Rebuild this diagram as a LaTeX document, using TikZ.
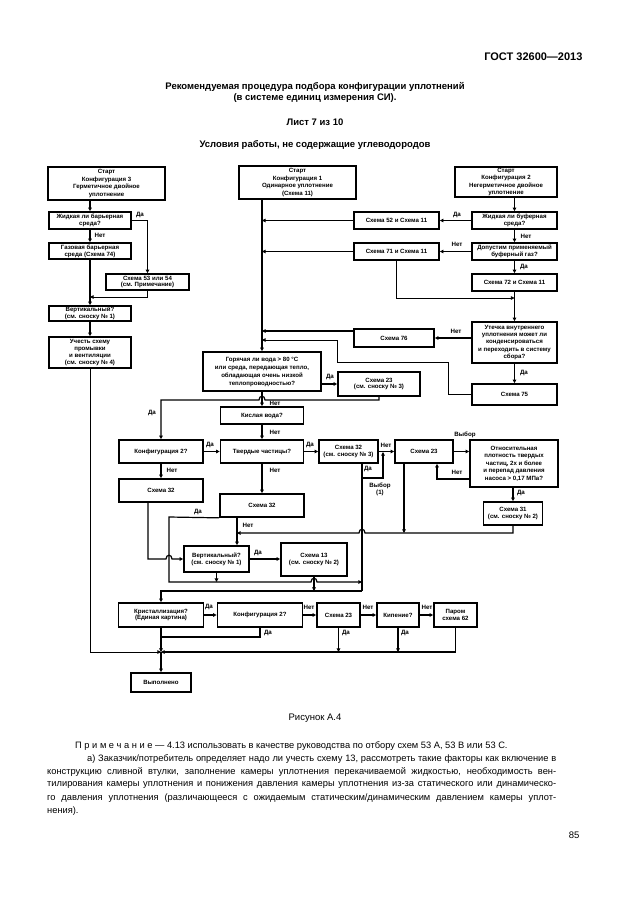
\documentclass[tikz,border=0pt]{standalone}
\usepackage{fontspec}
\setmainfont{Liberation Sans}
\usetikzlibrary{arrows.meta}
\begin{document}
\begin{tikzpicture}[x=1pt,y=-1pt,
  bx/.style={draw, line width=1.7pt, align=center, inner sep=0pt, font=\bfseries\fontsize{6.1}{6.9}\selectfont},
  ln/.style={line width=1.2pt},
  tn/.style={line width=0.8pt},
  ar/.style={-{Triangle[length=3.6pt,width=3.6pt]}},
  lb/.style={font=\bfseries\fontsize{6.2}{7}\selectfont, inner sep=0pt, align=center},
]
\useasboundingbox (0,0) rectangle (630,913);
\fill[white] (0,0) rectangle (630,913);

% ---------- header ----------
\node[font=\bfseries\fontsize{11}{13}\selectfont, anchor=east] (gost) at (586,57) {ГОСТ 32600—2013};
\node[font=\bfseries\fontsize{9.5}{11.5}\selectfont, align=center] (title) at (315,92.5) {Рекомендуемая процедура подбора конфигурации уплотнений\\(в системе единиц измерения СИ).};
\node[font=\bfseries\fontsize{9.5}{11.5}\selectfont] (sheet) at (315,122) {Лист 7 из 10};
\node[font=\bfseries\fontsize{9.5}{11.5}\selectfont] (cond) at (315,145) {Условия работы, не содержащие углеводородов};

% ---------- boxes: left column ----------
\node[bx, minimum width=117pt, minimum height=33pt, font=\bfseries\fontsize{6.1}{7.4}\selectfont] (L1) at (106.5,183.5) {Старт\\Конфигурация 3\\Герметичное двойное\\уплотнение};
\node[bx, minimum width=82pt, minimum height=17pt] (L2) at (90,220.5) {Жидкая ли барьерная\\среда?};
\node[bx, minimum width=82pt, minimum height=16pt] (L3) at (90,251) {Газовая барьерная\\среда (Схема 74)};
\node[bx, minimum width=83pt, minimum height=16pt] (L4) at (147.5,282) {Схема 53 или 54\\(см. Примечание)};
\node[bx, minimum width=82pt, minimum height=15pt] (L5) at (90,313.5) {Вертикальный?\\(см. сноску № 1)};
\node[bx, minimum width=82pt, minimum height=31pt] (L6) at (90,352.5) {Учесть схему\\промывки\\и вентиляции\\(см. сноску № 4)};

% ---------- middle column ----------
\node[bx, minimum width=117pt, minimum height=33pt, font=\bfseries\fontsize{6.1}{7.4}\selectfont] (M1) at (297.5,182.5) {Старт\\Конфигурация 1\\Одинарное уплотнение\\(Схема 11)};
\node[bx, minimum width=85pt, minimum height=17pt] (M2) at (396.5,220.5) {Схема 52 и Схема 11};
\node[bx, minimum width=85pt, minimum height=17pt] (M3) at (396.5,251.5) {Схема 71 и Схема 11};
\node[bx, minimum width=80pt, minimum height=18pt] (M5) at (394,338) {Схема 76};
\node[bx, minimum width=118pt, minimum height=39pt, font=\bfseries\fontsize{6.1}{8}\selectfont] (M6) at (262,371.5) {Горячая ли вода > 80 °С\\или среда, передающая тепло,\\обладающая очень низкой\\теплопроводностью?};
\node[bx, minimum width=82pt, minimum height=24pt] (M7) at (379,384) {Схема 23\\(см. сноску № 3)};

% ---------- right column ----------
\node[bx, minimum width=102pt, minimum height=30pt, font=\bfseries\fontsize{6.1}{7.2}\selectfont] (R1) at (506,182) {Старт\\Конфигурация 2\\Негерметичное двойное\\уплотнение};
\node[bx, minimum width=85pt, minimum height=17pt] (R2) at (514.5,220.5) {Жидкая ли буферная\\среда?};
\node[bx, minimum width=85pt, minimum height=17pt] (R3) at (514.5,251.5) {Допустим применяемый\\буферный газ?};
\node[bx, minimum width=85pt, minimum height=17pt] (R4) at (514.5,282.5) {Схема 72 и Схема 11};
\node[bx, minimum width=85pt, minimum height=41pt, font=\bfseries\fontsize{6.1}{7.4}\selectfont] (R5) at (514.5,342.5) {Утечка внутреннего\\уплотнения может ли\\конденсироваться\\и переходить в систему\\сбора?};
\node[bx, minimum width=85pt, minimum height=21pt] (R6) at (514.5,394.5) {Схема 75};

% ---------- lower part ----------
\node[bx, minimum width=83pt, minimum height=17pt] (KV) at (262,415.5) {Кислая вода?};
\node[bx, minimum width=84pt, minimum height=23pt] (K2) at (161,451.5) {Конфигурация 2?};
\node[bx, minimum width=83pt, minimum height=23pt] (T) at (262,451.5) {Твердые частицы?};
\node[bx, minimum width=59pt, minimum height=23pt] (A) at (348.5,451.5) {Схема 32\\(см. сноску № 3)};
\node[bx, minimum width=58pt, minimum height=23pt] (B) at (424,451.5) {Схема 23};
\node[bx, minimum width=88pt, minimum height=47pt, font=\bfseries\fontsize{6.1}{7.5}\selectfont] (Q) at (514,463.5) {Относительная\\плотность твердых\\частиц, 2х и более\\и перепад давления\\насоса > 0,17 МПа?};
\node[bx, minimum width=59pt, minimum height=23pt] (S31) at (513,513.5) {Схема 31\\(см. сноску № 2)};
\node[bx, minimum width=84pt, minimum height=23pt] (S22) at (161,490.5) {Схема 32};
\node[bx, minimum width=84pt, minimum height=23pt] (P) at (262,505.5) {Схема 32};
\node[bx, minimum width=65pt, minimum height=26pt] (V2) at (216.5,559) {Вертикальный?\\(см. сноску № 1)};
\node[bx, minimum width=66pt, minimum height=33pt] (S13) at (314,559.5) {Схема 13\\(см. сноску № 2)};
\node[bx, minimum width=85pt, minimum height=24pt] (KR) at (161,615) {Кристаллизация?\\(Единая картина)};
\node[bx, minimum width=85pt, minimum height=24pt] (K22) at (260,615) {Конфигурация 2?};
\node[bx, minimum width=43pt, minimum height=24pt] (S23b) at (338.5,615) {Схема 23};
\node[bx, minimum width=42pt, minimum height=24pt] (KP) at (398,615) {Кипение?};
\node[bx, minimum width=43pt, minimum height=24pt] (PK) at (455.5,615) {Паром\\схема 62};
\node[bx, minimum width=60pt, minimum height=19pt] (DONE) at (161,682.5) {Выполнено};

% ---------- coordinates ----------
\coordinate (jL4) at (90,297);
\coordinate (jEnd) at (161,652);
\coordinate (jM3) at (514.5,298);
\coordinate (r6a) at (448,362);
\coordinate (r6b) at (337,340);
\coordinate (aj) at (362,478);
\coordinate (ab) at (383,452);
\coordinate (pj1) at (169,582);
\coordinate (s31j) at (513,533);

% ---------- connectors: left ----------
\draw[ln,ar] (L1.south -| L2.north) -- (L2.north);
\draw[ln,ar] (L2.south) -- (L3.north);
\draw[ln,ar] (L2.east) -| (L4.north);
\draw[ln,ar] (L3.south) -- (L5.north);
\draw[tn,ar] (L4.south) |- (jL4);
\draw[ln,ar] (L5.south) -- (L6.north);
\draw[tn,ar] (L6.south) |- (jEnd);

% ---------- connectors: top middle/right ----------
\draw[ln,ar] (M1.south -| M6.north) -- (M6.north);
\draw[ln,ar] (M2.west) -- (M2.west -| M6.north);
\draw[ln,ar] (M3.west) -- (M3.west -| M6.north);
\draw[tn,ar] (M3.south) |- (jM3);
\draw[ln,ar] (R1.south -| R2.north) -- (R2.north);
\draw[ln,ar] (R2.west) -- (M2.east);
\draw[ln,ar] (R2.south) -- (R3.north);
\draw[ln,ar] (R3.west) -- (M3.east);
\draw[ln,ar] (R3.south) -- (R4.north);
\draw[ln,ar] (R4.south) -- (R5.north);
\draw[ln,ar] (M5.east -| R5.west) -- (M5.east);
\draw[ln,ar] ([yshift=7pt]M5.west) -- ([yshift=7pt]M5.west -| M6.north);
\draw[ln,ar] (R5.south) -- (R6.north);
\draw[tn,ar] (R6.west) -| (r6a) -| (r6b) -- (r6b -| M6.north);

% ---------- connectors: middle ----------
\draw[ln,ar] (M7.west -| M6.east) -- (M7.west);
\draw[ln,ar] (M6.south) -- (KV.north);
\draw[ln,ar] (M7.south) -- (379,400) -- (265,400) .. controls (265,395) and (259,395) .. (259,400) -- (161,400) -- (K2.north);
\draw[ln,ar] (KV.south) -- (T.north);
\draw[ln,ar] (K2.east) -- (T.west);
\draw[ln,ar] (K2.south) -- (S22.north);
\draw[ln,ar] (T.east) -- (A.west);
\draw[ln,ar] (T.south) -- (P.north);
\draw[ln,ar] (A.east) -- (B.west);
\draw[ln,ar] (B.east) -- (B.east -| Q.west);
\draw[ln,ar] ([yshift=-15.5pt]Q.west) -| ([xshift=13pt]B.south);
\draw[ln,ar] (S31.north |- Q.south) -- (S31.north);
\draw[ln,ar] (S31.south) -- (s31j) -- (365,533) .. controls (365,528) and (359,528) .. (359,533) -- (237,533);
\draw[ln,ar] ([xshift=-20pt]B.south) -- ([xshift=-20pt]B.south |- s31j);
\draw[ln] ([xshift=13.5pt]A.south) -- (aj) -- (362,591);
\draw[ln,ar] (aj) -| (ab);
\draw[ln,ar] (P.south west) -- (169,517) -- (pj1) -- (311,582) .. controls (311,577) and (317,577) .. (317,582) -- (362,582);
\draw[ln,ar] ([xshift=-25pt]P.south) -- ([xshift=-25pt]P.south |- V2.north);
\draw[ln,ar] ([xshift=-13pt]S22.south) -- (148,559) -- (166,559) .. controls (166,554) and (172,554) .. (172,559) -- (V2.west);
\draw[ln,ar] (V2.east) -- (V2.east -| S13.west);
\draw[ln,ar] (V2.south) -- (V2.south |- pj1);
\draw[ln,ar] (S13.south) -- (314,591);
\draw[ln,ar] (362,591) -- (161,591) -- (KR.north);

% ---------- connectors: bottom ----------
\draw[ln,ar] (KR.east) -- (K22.west);
\draw[ln,ar] (KR.south) -- (jEnd);
\draw[ln,ar] (jEnd) -- (DONE.north);
\draw[ln] (K22.south) |- (161,637);
\draw[ln,ar] (K22.east) -- (S23b.west);
\draw[ln,ar] (S23b.south) -- (S23b.south |- jEnd);
\draw[ln,ar] (S23b.east) -- (KP.west);
\draw[ln,ar] (KP.south) -- (KP.south |- jEnd);
\draw[ln,ar] (KP.east) -- (PK.west);
\draw[ln,ar] (PK.south) |- (jEnd);

% ---------- labels ----------
\node[lb] (t1) at (100,235.5) {Нет};
\node[lb] (t2) at (140,215) {Да};
\node[lb] (t3) at (457,215) {Да};
\node[lb] (t4) at (526,236) {Нет};
\node[lb] (t5) at (457,244.5) {Нет};
\node[lb] (t6) at (524,267) {Да};
\node[lb] (t7) at (456,331) {Нет};
\node[lb] (t8) at (524,373) {Да};
\node[lb] (t9) at (330,377) {Да};
\node[lb] (t10) at (275,403) {Нет};
\node[lb] (t11) at (152,413) {Да};
\node[lb] (t12) at (275,432) {Нет};
\node[lb] (t13) at (210,445) {Да};
\node[lb] (t14) at (172,470) {Нет};
\node[lb] (t15) at (310,445) {Да};
\node[lb] (t16) at (275,470) {Нет};
\node[lb] (t17) at (386,445) {Нет};
\node[lb] (t18) at (465,435) {Выбор};
\node[lb] (t19) at (457,472) {Нет};
\node[lb] (t20) at (521,493) {Да};
\node[lb] (t21) at (368,469) {Да};
\node[lb] (t22) at (380,489) {Выбор\\(1)};
\node[lb] (t23) at (198,512) {Да};
\node[lb] (t24) at (248,525) {Нет};
\node[lb] (t25) at (258,553) {Да};
\node[lb] (t26) at (209,607) {Да};
\node[lb] (t27) at (309,607) {Нет};
\node[lb] (t28) at (268,633) {Да};
\node[lb] (t29) at (346,633) {Да};
\node[lb] (t30) at (368,607) {Нет};
\node[lb] (t31) at (405,633) {Да};
\node[lb] (t32) at (427,607) {Нет};

% ---------- footer ----------
\node[font=\fontsize{9.5}{11}\selectfont] (fig) at (315,718) {Рисунок А.4};
\node[font=\fontsize{9.3}{11}\selectfont, anchor=west, inner sep=0pt] (n1) at (75,746) {П р и м е ч а н и е — 4.13 использовать в качестве руководства по отбору схем 53 А, 53 В или 53 С.};
\node[font=\fontsize{9.3}{11}\selectfont, anchor=west, inner sep=0pt] (n2) at (87,759) {\makebox[469pt][s]{а) Заказчик/потребитель определяет надо ли учесть схему 13, рассмотреть такие факторы как включение в}};
\node[font=\fontsize{9.3}{11}\selectfont, anchor=west, inner sep=0pt] (n3) at (47,772) {\makebox[509pt][s]{конструкцию сливной втулки, заполнение камеры уплотнения перекачиваемой жидкостью, необходимость вен-}};
\node[font=\fontsize{9.3}{11}\selectfont, anchor=west, inner sep=0pt] (n4) at (47,785) {\makebox[509pt][s]{тилирования камеры уплотнения и понижения давления камеры уплотнения из-за статического или динамическо-}};
\node[font=\fontsize{9.3}{11}\selectfont, anchor=west, inner sep=0pt] (n5) at (47,798) {\makebox[509pt][s]{го давления уплотнения (различающееся с ожидаемым статическим/динамическим давлением камеры уплот-}};
\node[font=\fontsize{9.3}{11}\selectfont, anchor=west, inner sep=0pt] (n6) at (47,811) {нения).};
\node[font=\fontsize{9.5}{11}\selectfont, anchor=east] (pg) at (583,835) {85};
\end{tikzpicture}
\end{document}
